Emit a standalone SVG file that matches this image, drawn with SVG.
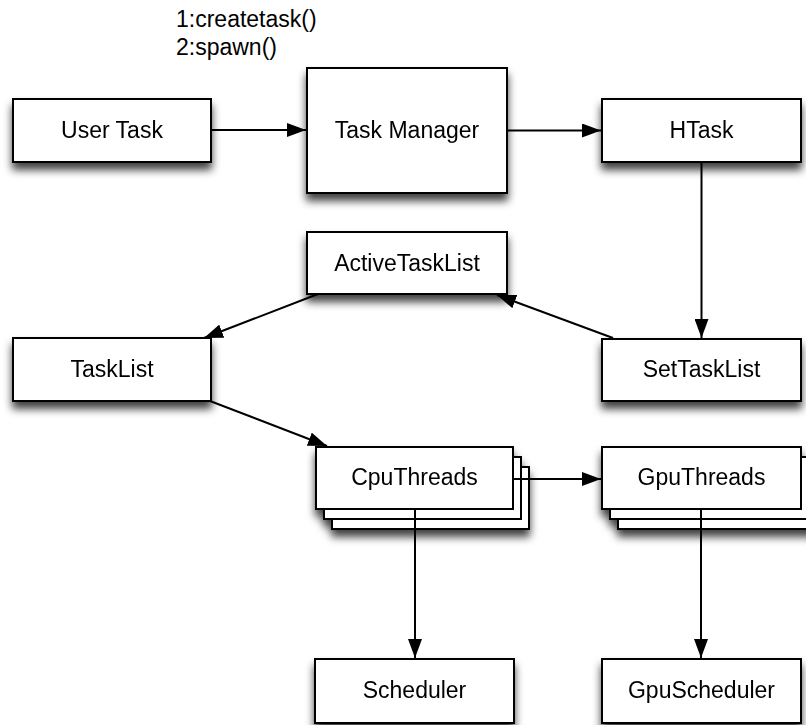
<svg xmlns="http://www.w3.org/2000/svg" width="806" height="725" viewBox="0 0 806 725">
<defs>
<filter id="sh" x="-20%" y="-30%" width="140%" height="180%">
<feDropShadow dx="0" dy="7" stdDeviation="4.5" flood-color="#000" flood-opacity="0.75"/>
</filter>
<marker id="ar" viewBox="0 0 19 14" refX="19" refY="7" markerWidth="19" markerHeight="14" markerUnits="userSpaceOnUse" orient="auto">
<path d="M0,0 L19,7 L0,14 Z" fill="#000"/>
</marker>
</defs>
<style>
.box{fill:#fff;stroke:#000;stroke-width:2}
.t{font-family:"Liberation Sans",Arial,sans-serif;font-size:23px;fill:#000;text-anchor:middle}
.lbl{font-family:"Liberation Sans",Arial,sans-serif;font-size:23px;fill:#000}
.c{stroke:#000;stroke-width:2;fill:none;marker-end:url(#ar)}
</style>
<rect width="806" height="725" fill="#fff"/>
<g id="usertask" filter="url(#sh)"><rect class="box" x="13" y="99" width="198" height="63"/><text class="t" x="112" y="138">User Task</text></g>
<g id="taskmanager" filter="url(#sh)"><rect class="box" x="307" y="68" width="200" height="125"/><text class="t" x="407" y="138">Task Manager</text></g>
<g id="htask" filter="url(#sh)"><rect class="box" x="602" y="99" width="199" height="63"/><text class="t" x="701.5" y="138">HTask</text></g>
<g id="activetasklist" filter="url(#sh)"><rect class="box" x="307" y="232" width="200" height="62"/><text class="t" x="407" y="271">ActiveTaskList</text></g>
<g id="tasklist" filter="url(#sh)"><rect class="box" x="13" y="338" width="198" height="63"/><text class="t" x="112" y="377">TaskList</text></g>
<g id="settasklist" filter="url(#sh)"><rect class="box" x="602" y="339" width="199" height="62"/><text class="t" x="701.5" y="377">SetTaskList</text></g>
<g id="cputhreads" filter="url(#sh)">
<rect class="box" x="332" y="467" width="197" height="62"/>
<rect class="box" x="324" y="457" width="197" height="62"/>
<rect class="box" x="316" y="447" width="197" height="62"/>
<text class="t" x="414.5" y="485">CpuThreads</text></g>
<g id="gputhreads" filter="url(#sh)">
<rect class="box" x="618" y="467" width="199" height="62"/>
<rect class="box" x="610" y="457" width="199" height="62"/>
<rect class="box" x="602" y="447" width="199" height="62"/>
<text class="t" x="701.5" y="485">GpuThreads</text></g>
<g id="scheduler" filter="url(#sh)"><rect class="box" x="315" y="659" width="199" height="64"/><text class="t" x="414.5" y="698">Scheduler</text></g>
<g id="gpuscheduler" filter="url(#sh)"><rect class="box" x="602" y="659" width="199" height="64"/><text class="t" x="701.5" y="698">GpuScheduler</text></g>
<g id="labels">
<text class="lbl" x="176" y="27">1:createtask()</text>
<text class="lbl" x="176" y="54.5">2:spawn()</text>
</g>
<g id="connectors">
<line class="c" x1="211" y1="130" x2="306" y2="130"/>
<line class="c" x1="507" y1="130.5" x2="601" y2="130.5"/>
<line class="c" x1="701.5" y1="162" x2="701.5" y2="338"/>
<line class="c" x1="613" y1="338" x2="497" y2="295"/>
<line class="c" x1="318" y1="294" x2="204" y2="338"/>
<line class="c" x1="210" y1="401" x2="327" y2="446"/>
<line class="c" x1="513" y1="479" x2="601" y2="479"/>
<line class="c" x1="415" y1="509" x2="415" y2="658"/>
<line class="c" x1="701" y1="509" x2="701" y2="658"/>
</g>
</svg>
